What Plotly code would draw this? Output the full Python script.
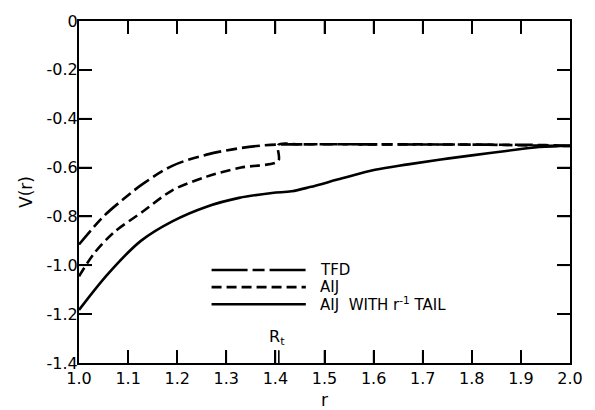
import plotly.graph_objects as go

# ---- data ----
r_tfd = [1.0, 1.05, 1.09, 1.13, 1.19, 1.26, 1.33, 1.39, 1.45, 1.6, 1.8, 1.95, 2.0]
v_tfd = [-0.915, -0.80, -0.73, -0.667, -0.593, -0.547, -0.52, -0.507, -0.505, -0.505, -0.506, -0.508, -0.512]

r_aij = [1.0, 1.03, 1.07, 1.13, 1.19, 1.26, 1.33, 1.406, 1.406, 1.45, 1.6, 1.8, 2.0]
v_aij = [-1.045, -0.953, -0.867, -0.78, -0.693, -0.637, -0.60, -0.573, -0.507, -0.505, -0.505, -0.506, -0.512]

r_tail = [1.0, 1.06, 1.126, 1.19, 1.26, 1.326, 1.393, 1.433, 1.47, 1.536, 1.603, 1.67, 1.737, 1.804, 1.87, 1.937, 2.0]
v_tail = [-1.183, -1.033, -0.90, -0.82, -0.76, -0.724, -0.704, -0.697, -0.68, -0.644, -0.609, -0.587, -0.567, -0.549, -0.532, -0.516, -0.510]

x_ticks = [1.0, 1.1, 1.2, 1.3, 1.4, 1.5, 1.6, 1.7, 1.8, 1.9, 2.0]
x_ticktext = ["1.0", "1.1", "1.2", "1.3", "1.4", "1.5", "1.6", "1.7", "1.8", "1.9", "2.0"]
y_ticks = [0, -0.2, -0.4, -0.6, -0.8, -1.0, -1.2, -1.4]
y_ticktext = ["0", "-0.2", "-0.4", "-0.6", "-0.8", "-1.0", "-1.2", "-1.4"]

rt_ticks = [1.399, 1.407]  # double tick marking R_t

legend_labels = ["TFD", "AIJ", "AIJ&nbsp;&nbsp;WITH r<sup>-1</sup> TAIL"]

FONT = "DejaVu Sans"
INK = "rgb(0,0,0)"
TFD_DASH = "18px,5px,11px,5px"
TFD_KEY_DASH = "36px,5px,12px,5px"
AIJ_DASH = "10px,5px"
LW = 2.6

W, H = 595, 410
M = dict(l=79, r=19, t=15, b=47)
PLOT_W = W - M["l"] - M["r"]
PLOT_H = H - M["t"] - M["b"]
TICK_PX = 13
TX = TICK_PX / PLOT_W   # tick length in x-paper units
TY = TICK_PX / PLOT_H   # tick length in y-paper units

fig = go.Figure()
fig.add_trace(go.Scatter(x=r_tfd, y=v_tfd, mode="lines",
                         line=dict(color=INK, width=LW, dash=TFD_DASH, shape="spline", smoothing=1.0)))
fig.add_trace(go.Scatter(x=r_aij, y=v_aij, mode="lines",
                         line=dict(color=INK, width=LW, dash=AIJ_DASH, shape="spline", smoothing=0.8)))
fig.add_trace(go.Scatter(x=r_tail, y=v_tail, mode="lines",
                         line=dict(color=INK, width=LW, shape="spline", smoothing=1.0)))

shapes = []
# inside tick marks on all four sides (drawn as shapes)
for xv in x_ticks[1:-1]:
    shapes.append(dict(type="line", xref="x", yref="paper", x0=xv, x1=xv, y0=0, y1=TY,
                       line=dict(color=INK, width=1.6)))
    shapes.append(dict(type="line", xref="x", yref="paper", x0=xv, x1=xv, y0=1, y1=1 - TY,
                       line=dict(color=INK, width=1.6)))
for yv in y_ticks[1:-1]:
    shapes.append(dict(type="line", xref="paper", yref="y", x0=0, x1=TX, y0=yv, y1=yv,
                       line=dict(color=INK, width=1.6)))
    shapes.append(dict(type="line", xref="paper", yref="y", x0=1, x1=1 - TX, y0=yv, y1=yv,
                       line=dict(color=INK, width=1.6)))
# R_t double tick
for xv in rt_ticks:
    shapes.append(dict(type="line", xref="x", yref="paper", x0=xv, x1=xv, y0=0, y1=TY,
                       line=dict(color=INK, width=1.6)))

leg_y = [0.272, 0.222, 0.172]
dashes = [TFD_KEY_DASH, AIJ_DASH, "solid"]
for yy, d in zip(leg_y, dashes):
    shapes.append(dict(type="line", xref="paper", yref="paper", x0=0.270, x1=0.462, y0=yy, y1=yy,
                       line=dict(color=INK, width=LW, dash=d)))

annotations = []
for yy, t in zip(leg_y, legend_labels):
    annotations.append(dict(xref="paper", yref="paper", x=0.486, y=yy, text=t, showarrow=False,
                            xanchor="left", yanchor="middle", font=dict(family=FONT, size=15, color=INK)))
annotations.append(dict(xref="x", yref="paper", x=1.403, y=0.075, text="R<sub>t</sub>", showarrow=False,
                        xanchor="center", yanchor="middle", font=dict(family=FONT, size=16, color=INK)))
annotations.append(dict(xref="paper", yref="paper", x=-0.108, y=0.5, text="V(r)", textangle=-90, showarrow=False,
                        xanchor="center", yanchor="middle", font=dict(family=FONT, size=17, color=INK)))
annotations.append(dict(xref="paper", yref="paper", x=0.5, y=-0.107, text="r", showarrow=False,
                        xanchor="center", yanchor="middle", font=dict(family=FONT, size=17, color=INK)))

fig.update_layout(
    width=W, height=H,
    margin=M,
    paper_bgcolor="white", plot_bgcolor="white",
    showlegend=False,
    shapes=shapes, annotations=annotations,
    font=dict(family=FONT, size=16, color=INK),
)
fig.update_xaxes(range=[1.0, 2.0], tickmode="array", tickvals=x_ticks, ticktext=x_ticktext,
                 ticks="inside", ticklen=TICK_PX, tickwidth=2, tickcolor=INK,
                 showline=True, linewidth=2, linecolor=INK, mirror="ticks",
                 showgrid=False, zeroline=False)
fig.update_yaxes(range=[-1.4, 0], tickmode="array", tickvals=y_ticks, ticktext=y_ticktext,
                 ticks="inside", ticklen=TICK_PX, tickwidth=2, tickcolor=INK,
                 showline=True, linewidth=2, linecolor=INK, mirror="ticks",
                 showgrid=False, zeroline=False, ticklabelstandoff=-4)

fig.write_html("out.html")
